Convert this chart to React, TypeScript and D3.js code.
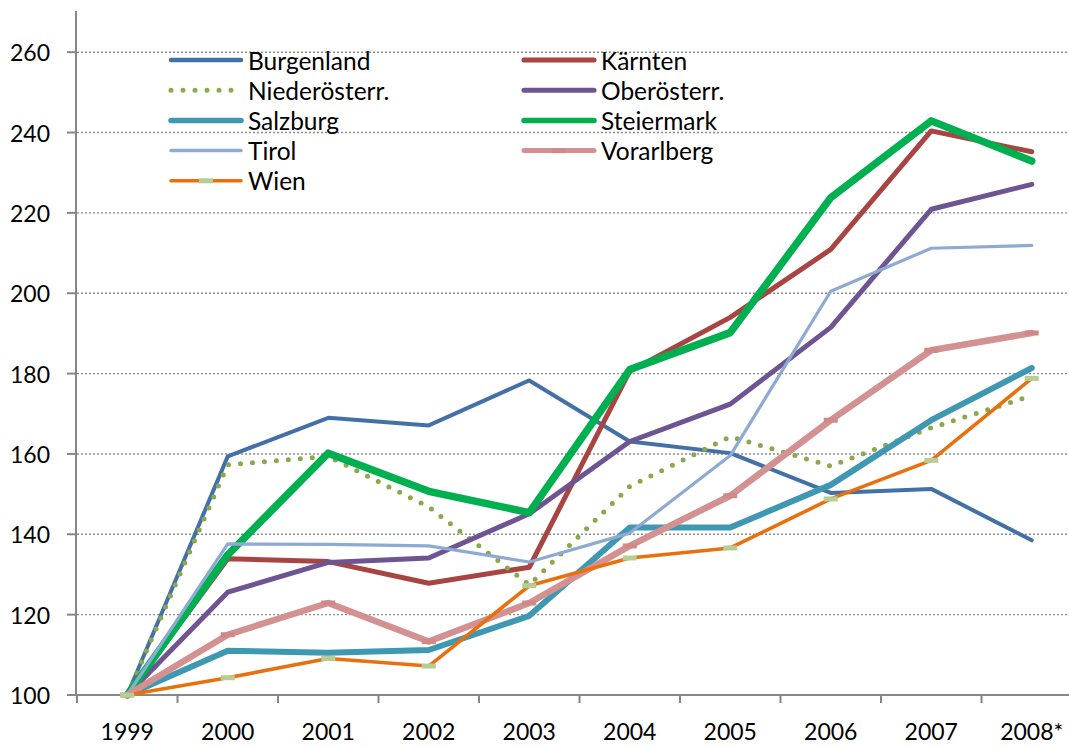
import React from "react";
import { scaleBand, scaleLinear, line } from "d3";

const years = ["1999", "2000", "2001", "2002", "2003", "2004", "2005", "2006", "2007", "2008*"];
const yTicks = [100, 120, 140, 160, 180, 200, 220, 240, 260];

const burgenland = [100, 159.4, 169.0, 167.1, 178.3, 163.1, 160.2, 150.3, 151.3, 138.5];
const kaernten = [100, 133.9, 133.2, 127.8, 131.8, 180.6, 194.0, 210.9, 240.4, 235.2];
const niederoest = [100, 157.3, 159.4, 146.8, 127.4, 151.9, 164.3, 157.0, 166.5, 174.5];
const oberoest = [100, 125.6, 133.0, 134.1, 145.1, 163.1, 172.4, 191.5, 220.9, 227.1];
const salzburg = [100, 111.0, 110.5, 111.2, 119.7, 141.7, 141.7, 152.3, 168.4, 181.4];
const steiermark = [100, 134.9, 160.2, 150.7, 145.4, 181.0, 190.2, 223.8, 242.9, 232.9];
const tirol = [100, 137.6, 137.5, 137.1, 133.1, 140.3, 159.6, 200.5, 211.2, 211.9];
const vorarlberg = [100, 115.0, 122.9, 113.3, 122.9, 137.1, 149.6, 168.4, 185.8, 190.1];
const wien = [100, 104.3, 109.1, 107.2, 127.2, 134.1, 136.6, 148.8, 158.4, 178.8];

type Series = {
  name: string;
  values: number[];
  color: string;
  width: number;
  legendWidth: number;
  dotted?: boolean;
  marker?: string;
};

const series: Series[] = [
  { name: "Burgenland", values: burgenland, color: "#4470a8", width: 4, legendWidth: 4.5 },
  { name: "Kärnten", values: kaernten, color: "#a84442", width: 5, legendWidth: 5 },
  { name: "Niederösterr.", values: niederoest, color: "#8aa84c", width: 5, legendWidth: 5, dotted: true },
  { name: "Oberösterr.", values: oberoest, color: "#6e5591", width: 5, legendWidth: 5 },
  { name: "Salzburg", values: salzburg, color: "#3f98b1", width: 6, legendWidth: 5.5 },
  { name: "Steiermark", values: steiermark, color: "#00b050", width: 7.5, legendWidth: 5.5 },
  { name: "Tirol", values: tirol, color: "#8eaad2", width: 3.2, legendWidth: 3.5 },
  { name: "Vorarlberg", values: vorarlberg, color: "#d39191", width: 6.5, legendWidth: 5, marker: "#d08888" },
  { name: "Wien", values: wien, color: "#e8710e", width: 3.6, legendWidth: 3.6, marker: "#b8cd96" },
];

const W = 1069;
const H = 748;
const FONT = "Lato, 'Open Sans', sans-serif";

export default function App() {
  const x = scaleBand<string>().domain(years).range([77, 1082]);
  const y = scaleLinear().domain([100, 270]).range([695, 12]);
  const cx = (c: string) => (x(c) ?? 0) + x.bandwidth() / 2;

  const path = line<number>()
    .x((_, i) => cx(years[i]))
    .y((d) => y(d));

  const legendX = [171, 524];
  const legendY0 = 60;
  const legendDy = 30.2;

  return (
    <svg width={W} height={H} style={{ position: "absolute", left: 0, top: 0, background: "#fff" }} fontFamily={FONT}>
      {/* grid */}
      {yTicks.filter((t) => t > 100).map((t) => (
        <line key={t} x1={77} x2={1080} y1={y(t)} y2={y(t)} stroke="#8c8c8c" strokeWidth={1.4} strokeDasharray="2,2" />
      ))}
      {/* y axis */}
      <line x1={76} x2={76} y1={y(270) - 1} y2={y(100)} stroke="#878787" strokeWidth={2} />
      {yTicks.map((t) => (
        <g key={t}>
          <line x1={67} x2={76} y1={y(t)} y2={y(t)} stroke="#878787" strokeWidth={2} />
          <text x={50} y={y(t)} textAnchor="end" dominantBaseline="central" fontSize={23} fill="#000">
            {t}
          </text>
        </g>
      ))}
      {/* x axis */}
      <line x1={75} x2={1082} y1={y(100)} y2={y(100)} stroke="#878787" strokeWidth={2} />
      {years.map((c) => (
        <g key={c}>
          <line x1={x(c)} x2={x(c)} y1={y(100)} y2={y(100) + 8} stroke="#878787" strokeWidth={2} />
          <text x={cx(c)} y={740} textAnchor="middle" fontSize={23} fill="#000">
            {c}
          </text>
        </g>
      ))}

      {/* series */}
      {series.map((s) => (
        <g key={s.name}>
          <path
            d={path(s.values) ?? ""}
            fill="none"
            stroke={s.color}
            strokeWidth={s.width}
            strokeLinejoin="round"
            strokeLinecap="round"
            strokeDasharray={s.dotted ? "0 12" : undefined}
          />
          {s.marker &&
            s.values.map((v, i) => (
              <rect key={i} x={cx(years[i]) - 7} y={y(v) - 2.5} width={14} height={5} fill={s.marker} />
            ))}
        </g>
      ))}

      {/* legend */}
      {series.map((s, i) => {
        const lx = legendX[i % 2];
        const ly = legendY0 + Math.floor(i / 2) * legendDy;
        return (
          <g key={s.name}>
            <line
              x1={lx}
              x2={lx + 70}
              y1={ly}
              y2={ly}
              stroke={s.color}
              strokeWidth={s.legendWidth}
              strokeLinecap="round"
              strokeDasharray={s.dotted ? "0 12" : undefined}
            />
            {s.marker && <rect x={lx + 28} y={ly - 2.5} width={14} height={5} fill={s.marker} />}
            <text x={lx + 77} y={ly} dominantBaseline="central" fontSize={24.5} fill="#000">
              {s.name}
            </text>
          </g>
        );
      })}
    </svg>
  );
}
